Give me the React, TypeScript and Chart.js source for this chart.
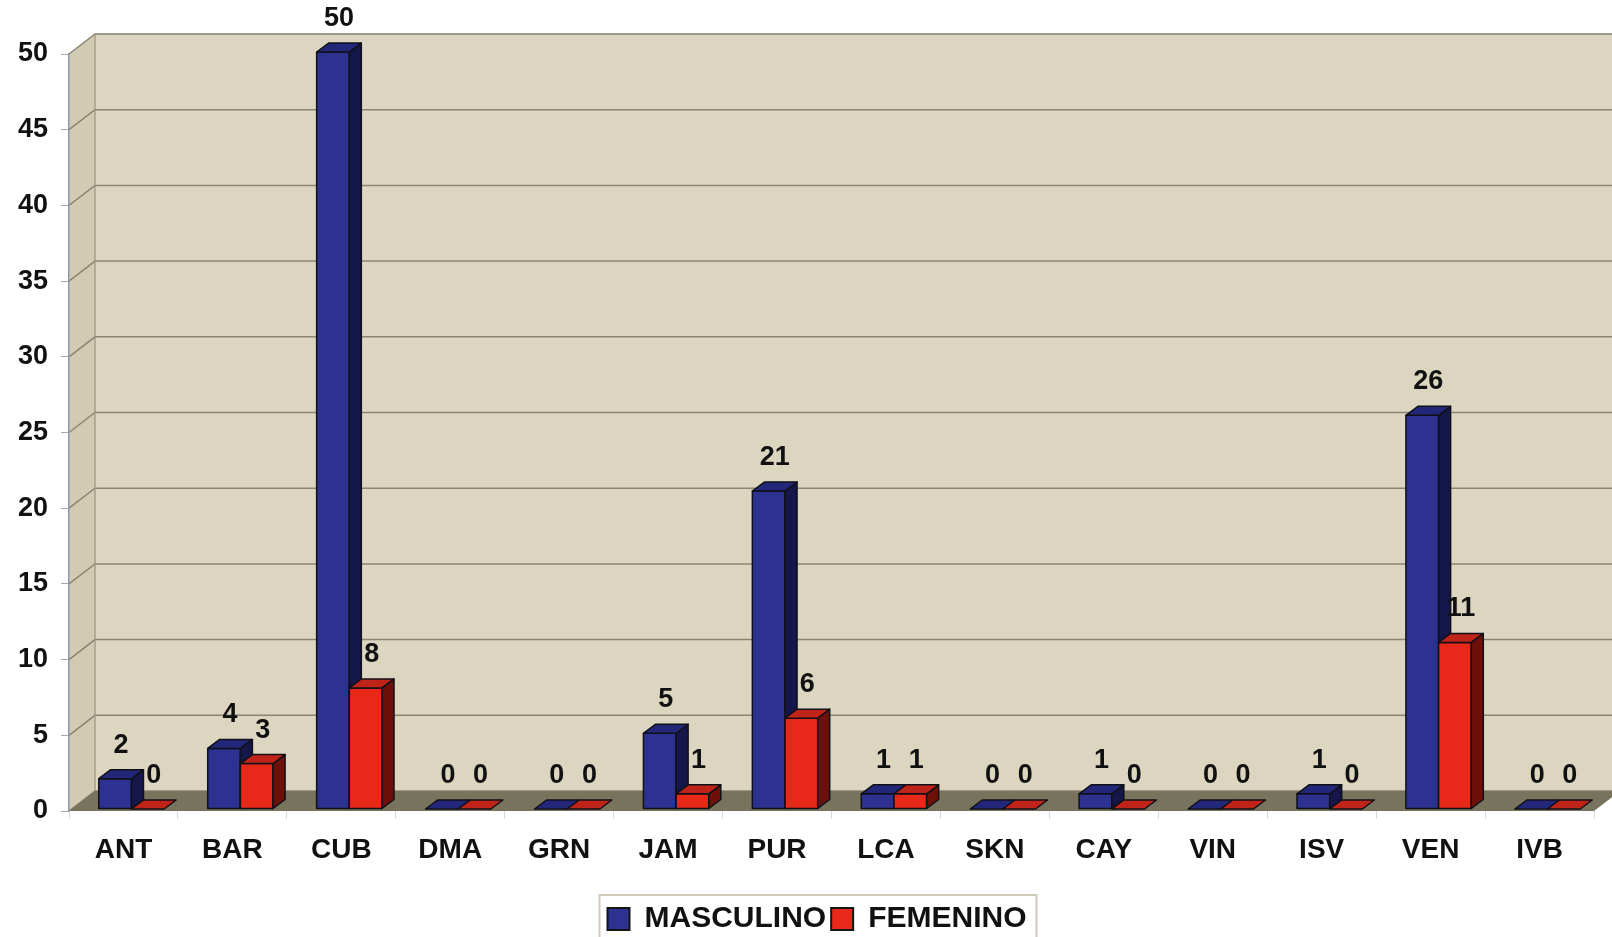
import React, { useEffect, useRef } from 'react';
import { Chart, registerables } from 'chart.js';

Chart.register(...registerables);

const categories = ['ANT', 'BAR', 'CUB', 'DMA', 'GRN', 'JAM', 'PUR', 'LCA', 'SKN', 'CAY', 'VIN', 'ISV', 'VEN', 'IVB'];
const masculino = [2, 4, 50, 0, 0, 5, 21, 1, 0, 1, 0, 1, 26, 0];
const femenino = [0, 3, 8, 0, 0, 1, 6, 1, 0, 0, 0, 0, 11, 0];
const seriesNames = ['MASCULINO', 'FEMENINO'];
const yMin = 0;
const yMax = 50;
const yStep = 5;

const FONT = '"Liberation Sans", Arial, Helvetica, sans-serif';
const WALL = '#DCD6C1';
const SIDE_WALL = '#D2CBB4';
const FLOOR = '#77735D';
const GRID = '#8C8573';
const WALL_DX = 26;
const WALL_DY = 20;
const BAR_DX = 12;
const BAR_DY = 9;
const BAR_SHIFT = 8;
const LEGEND_SHIFT_X = 20;
const LEGEND_SHIFT_Y = 7;

const faceColors = [
  { front: '#2D3290', side: '#15164A', top: '#23277A' },
  { front: '#E8291A', side: '#6E100A', top: '#C02418' },
];

const wallPlugin = {
  id: 'wall3d',
  beforeDraw(chart: any) {
    const { ctx, chartArea } = chart;
    const { left, right, top, bottom } = chartArea;
    const y = chart.scales.y;
    ctx.save();
    ctx.fillStyle = WALL;
    ctx.fillRect(left + WALL_DX, top - WALL_DY, right - left, bottom - top);
    ctx.fillStyle = SIDE_WALL;
    ctx.beginPath();
    ctx.moveTo(left, top);
    ctx.lineTo(left + WALL_DX, top - WALL_DY);
    ctx.lineTo(left + WALL_DX, bottom - WALL_DY);
    ctx.lineTo(left, bottom);
    ctx.closePath();
    ctx.fill();
    ctx.strokeStyle = GRID;
    ctx.lineWidth = 1.5;
    y.ticks.forEach((t: any) => {
      const py = y.getPixelForValue(t.value);
      ctx.beginPath();
      ctx.moveTo(left, py);
      ctx.lineTo(left + WALL_DX, py - WALL_DY);
      ctx.lineTo(right + WALL_DX, py - WALL_DY);
      ctx.stroke();
    });
    ctx.strokeStyle = '#9A9380';
    ctx.lineWidth = 1.2;
    ctx.beginPath();
    ctx.moveTo(left + WALL_DX, bottom - WALL_DY);
    ctx.lineTo(left + WALL_DX, top - WALL_DY);
    ctx.lineTo(right + WALL_DX, top - WALL_DY);
    ctx.stroke();
    ctx.fillStyle = FLOOR;
    ctx.beginPath();
    ctx.moveTo(left, bottom);
    ctx.lineTo(left + WALL_DX, bottom - WALL_DY);
    ctx.lineTo(right + WALL_DX, bottom - WALL_DY);
    ctx.lineTo(right, bottom);
    ctx.closePath();
    ctx.fill();
    ctx.restore();
  },
};

const barPlugin = {
  id: 'bar3d',
  afterDatasetsDraw(chart: any) {
    const { ctx } = chart;
    const metas = [chart.getDatasetMeta(0), chart.getDatasetMeta(1)];
    const values = [masculino, femenino];
    ctx.save();
    ctx.lineJoin = 'round';
    ctx.strokeStyle = '#101018';
    ctx.lineWidth = 1.5;
    const labels: any[] = [];
    for (let i = 0; i < categories.length; i++) {
      for (let d = 0; d < metas.length; d++) {
        const el = metas[d].data[i];
        if (!el) continue;
        const p = el.getProps(['x', 'y', 'base', 'width'], true);
        const x = p.x + BAR_SHIFT;
        const y = p.y - 2;
        const base = p.base - 2;
        const width = p.width;
        const l = x - width / 2;
        const r = x + width / 2;
        const c = faceColors[d];
        ctx.fillStyle = c.front;
        ctx.beginPath();
        ctx.rect(l, y, width, base - y);
        ctx.fill();
        if (base - y > 0.5) ctx.stroke();
        ctx.fillStyle = c.side;
        ctx.beginPath();
        ctx.moveTo(r, y);
        ctx.lineTo(r + BAR_DX, y - BAR_DY);
        ctx.lineTo(r + BAR_DX, base - BAR_DY);
        ctx.lineTo(r, base);
        ctx.closePath();
        ctx.fill();
        if (base - y > 0.5) ctx.stroke();
        ctx.fillStyle = c.top;
        ctx.beginPath();
        ctx.moveTo(l, y);
        ctx.lineTo(l + BAR_DX, y - BAR_DY);
        ctx.lineTo(r + BAR_DX, y - BAR_DY);
        ctx.lineTo(r, y);
        ctx.closePath();
        ctx.fill();
        ctx.stroke();
        labels.push({ x: x + BAR_DX / 2, y: y - 26, text: String(values[d][i]) });
      }
    }
    ctx.fillStyle = '#111';
    ctx.font = `bold 27px ${FONT}`;
    ctx.textAlign = 'center';
    ctx.textBaseline = 'alphabetic';
    labels.forEach((lb) => ctx.fillText(lb.text, lb.x, lb.y));
    ctx.restore();
  },
};

const legendBoxPlugin = {
  id: 'legendBox',
  afterLayout(chart: any) {
    const lg = chart.legend;
    if (!lg) return;
    lg.left += LEGEND_SHIFT_X;
    lg.right += LEGEND_SHIFT_X;
    lg.top += LEGEND_SHIFT_Y;
    lg.bottom += LEGEND_SHIFT_Y;
  },
  afterDraw(chart: any) {
    const lg = chart.legend;
    if (!lg || !lg.legendHitBoxes || !lg.legendHitBoxes.length) return;
    const boxes = lg.legendHitBoxes;
    let minL = Infinity;
    let maxR = -Infinity;
    boxes.forEach((b: any) => {
      minL = Math.min(minL, b.left);
      maxR = Math.max(maxR, b.left + b.width);
    });
    const { ctx } = chart;
    ctx.save();
    ctx.strokeStyle = '#CFCBB8';
    ctx.lineWidth = 2;
    ctx.strokeRect(minL - 8, lg.top - 4, maxR - minL + 18, lg.height + 10);
    ctx.restore();
  },
};

export default function App() {
  const ref = useRef<HTMLCanvasElement>(null);
  useEffect(() => {
    if (!ref.current) return;
    const chart = new Chart(ref.current, {
      type: 'bar',
      data: {
        labels: categories,
        datasets: [
          {
            label: seriesNames[0],
            data: masculino,
            backgroundColor: 'rgba(0,0,0,0)',
            borderWidth: 0,
            categoryPercentage: 0.6,
            barPercentage: 1.0,
          },
          {
            label: seriesNames[1],
            data: femenino,
            backgroundColor: 'rgba(0,0,0,0)',
            borderWidth: 0,
            categoryPercentage: 0.6,
            barPercentage: 1.0,
          },
        ],
      },
      options: {
        responsive: false,
        animation: false,
        layout: { padding: { top: 54, right: 18, left: 0, bottom: 0 } },
        plugins: {
          tooltip: { enabled: false },
          legend: {
            position: 'bottom',
            labels: {
              font: { family: FONT, size: 30, weight: 'bold', lineHeight: 1.0 },
              color: '#111',
              boxWidth: 22,
              boxHeight: 22,
              padding: 5,
              generateLabels: (c: any) =>
                (Chart.defaults.plugins.legend.labels as any).generateLabels(c).map((it: any, i: number) => ({
                  ...it,
                  fillStyle: faceColors[i].front,
                  lineWidth: 2,
                  strokeStyle: '#151515',
                })),
            },
          },
        },
        scales: {
          x: {
            grid: {
              display: true,
              drawOnChartArea: false,
              drawTicks: true,
              tickLength: 8,
              color: '#D8D8D8',
            },
            border: { display: false },
            ticks: {
              font: { family: FONT, size: 28, weight: 'bold' },
              color: '#111',
              padding: 14,
              maxRotation: 0,
              autoSkip: false,
            },
            afterFit: (s: any) => {
              s.height = 81;
            },
          },
          y: {
            min: yMin,
            max: yMax,
            ticks: {
              stepSize: yStep,
              font: { family: FONT, size: 27, weight: 'bold' },
              color: '#111',
              padding: 13,
            },
            grid: {
              drawOnChartArea: false,
              drawTicks: true,
              tickLength: 8,
              color: '#A8A8A8',
            },
            border: { display: true, color: '#8E97AC', width: 1.5 },
            afterFit: (s: any) => {
              s.width = 69;
            },
          },
        },
      },
      plugins: [wallPlugin, barPlugin, legendBoxPlugin],
    } as any);
    return () => chart.destroy();
  }, []);
  return (
    <div style={{ position: 'fixed', left: 0, top: 0, width: 1612, height: 937, background: '#fff' }}>
      <canvas ref={ref} width={1612} height={937} />
    </div>
  );
}
